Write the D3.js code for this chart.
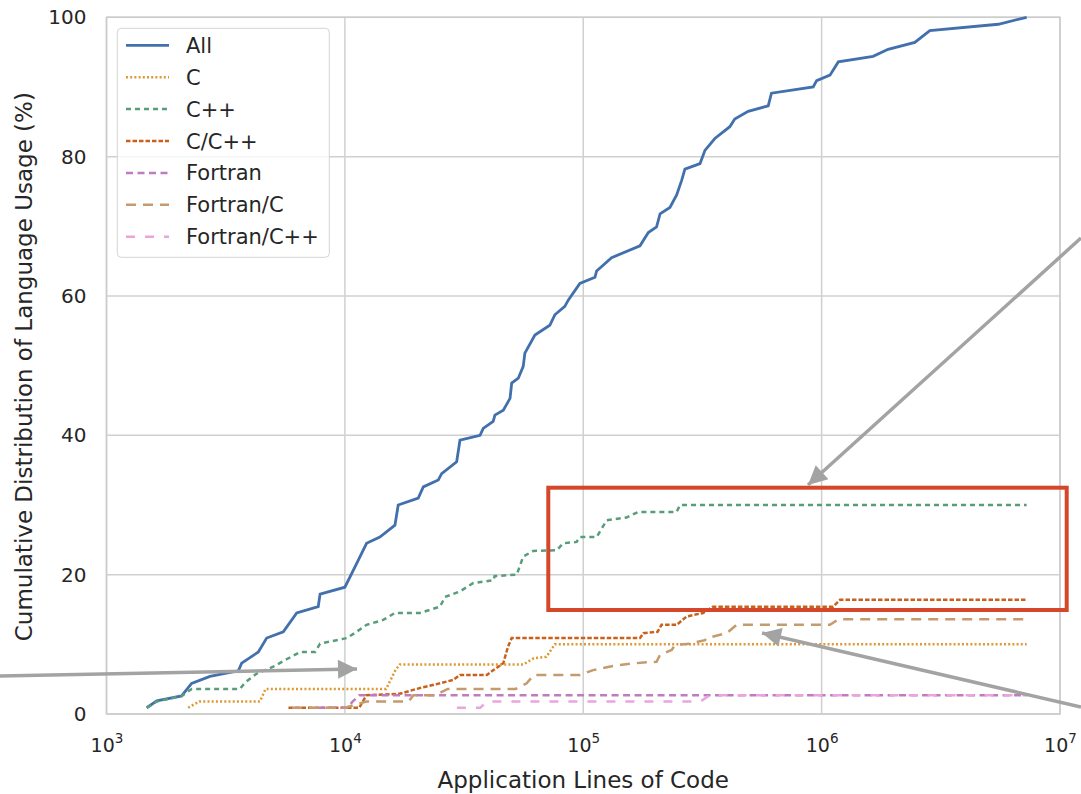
<!DOCTYPE html>
<html>
<head>
<meta charset="utf-8">
<script src="https://cdn.jsdelivr.net/npm/d3@7"></script>
<style>
  body { margin: 0; background: #fff; }
  svg text { font-family: "DejaVu Sans", sans-serif; fill: #262626; }
</style>
</head>
<body>
<svg id="chart" width="1081" height="794"></svg>
<script>
// [lines of code, cumulative %] per language group
const allPts = [[1475,0.9],[1625,1.9],[2066,2.6],[2275,4.4],[2716,5.4],[3573,6.2],[3690,7.3],[4335,8.9],[4698,10.9],[5517,11.8],[6280,14.5],[7730,15.4],[7870,17.2],[10000,18.2],[11200,21.6],[12330,24.5],[14020,25.4],[16220,27.1],[16740,30.0],[20320,31.0],[21330,32.6],[24660,33.6],[25470,34.5],[29440,36.2],[30400,39.3],[36900,40.0],[38050,41.0],[41900,42.0],[42600,42.9],[46200,43.6],[49300,45.3],[50100,47.5],[53400,48.2],[56000,49.9],[56900,51.8],[62700,54.4],[72400,55.8],[76000,57.3],[83700,58.5],[86500,59.4],[96800,61.8],[112000,62.7],[113800,63.6],[131500,65.5],[173000,67.2],[187500,69.1],[203000,69.9],[210000,71.8],[231000,72.7],[246500,74.5],[258700,76.6],[267000,78.2],[309000,79.0],[324000,80.9],[356500,82.6],[412000,84.3],[432000,85.4],[492000,86.5],[597000,87.3],[616000,89.1],[922000,90.0],[953000,90.9],[1084000,91.7],[1175000,93.6],[1644000,94.4],[1901000,95.4],[2460000,96.4],[2844000,98.1],[5510000,99.0],[7245000,100]];
const cPts = [[2200,0.9],[2450,1.8],[4400,1.8],[4650,3.6],[14900,3.6],[16300,6.3],[17000,7.1],[56000,7.1],[62000,8.0],[70000,8.2],[76000,10.0],[7245000,10.0]];
const cppPts = [[1475,0.9],[1625,1.8],[2070,2.6],[2280,3.6],[3630,3.6],[3810,4.5],[4270,5.8],[5010,6.8],[5800,8.0],[6490,8.9],[7500,8.9],[7870,10.1],[10200,10.9],[11200,11.8],[12330,12.8],[14480,13.5],[16200,14.5],[20650,14.5],[25060,15.4],[26300,16.8],[30400,17.6],[34600,18.8],[42000,19.2],[42500,19.8],[52600,20.0],[56000,22.6],[61700,23.4],[77300,23.5],[82400,24.5],[93800,24.7],[96800,25.4],[113800,25.4],[125300,27.8],[152000,28.2],[170000,29.0],[246500,29.0],[254600,30.0],[7245000,30.0]];
const ccppPts = [[5800,0.9],[11500,0.9],[12300,2.7],[17000,2.9],[20000,3.6],[25000,4.4],[28500,4.9],[30400,5.6],[39400,5.6],[42000,6.3],[46200,7.3],[48400,9.7],[50100,10.9],[173000,10.9],[178700,11.6],[205000,11.8],[213000,12.8],[246600,12.8],[271600,14.0],[318000,14.5],[350600,15.4],[1118000,15.4],[1195000,16.4],[7245000,16.4]];
const fortranPts = [[7700,0.9],[10200,0.9],[10800,1.8],[11500,2.7],[7245000,2.7]];
const fortranCPts = [[6000,0.9],[10000,0.9],[12300,1.8],[18500,1.8],[19400,2.7],[24000,2.7],[27000,3.6],[52000,3.6],[57900,4.4],[62000,5.6],[96800,5.6],[110000,6.3],[138000,7.0],[178700,7.4],[203000,7.5],[210000,8.5],[235000,9.2],[242700,9.9],[280600,10.1],[324000,10.6],[330000,10.9],[400000,11.6],[440000,12.8],[1084000,12.8],[1175000,13.6],[7245000,13.6]];
const fortranCppPts = [[29500,0.9],[37000,0.9],[39500,1.8],[310000,1.8],[340000,2.7],[7245000,2.7]];

const seriesNames = ["All", "C", "C++", "C/C++", "Fortran", "Fortran/C", "Fortran/C++"];
const seriesData = [allPts, cPts, cppPts, ccppPts, fortranPts, fortranCPts, fortranCppPts];
const seriesColors = ["#4170ad", "#dd9932", "#579d7a", "#c8611b", "#bf7cc0", "#c49a6e", "#eaa5dc"];
const seriesDash = [null, "2,2.2", "5,4", "4.5,2", "7,4.5", "10,7", "9,10"];

const xTicks = [1e3, 1e4, 1e5, 1e6, 1e7];
const yTicks = [0, 20, 40, 60, 80, 100];

(function() {
    const svg = d3.select("#chart");
    const left = 106.5, right = 1060, plotTop = 17.3, bottom = 714;

    const x = d3.scaleLog().domain([1e3, 1e7]).range([left, right]);
    const y = d3.scaleLinear().domain([0, 100]).range([bottom, plotTop]);

    // grid
    svg.append("g").selectAll("line").data(yTicks).join("line")
        .attr("x1", left).attr("x2", right)
        .attr("y1", d => y(d)).attr("y2", d => y(d))
        .attr("stroke", "#d0d0d0").attr("stroke-width", 1.5);
    svg.append("g").selectAll("line").data(xTicks).join("line")
        .attr("x1", d => x(d)).attr("x2", d => x(d))
        .attr("y1", plotTop).attr("y2", bottom)
        .attr("stroke", "#d0d0d0").attr("stroke-width", 1.5);
    svg.append("rect")
        .attr("x", left).attr("y", plotTop)
        .attr("width", right - left).attr("height", bottom - plotTop)
        .attr("fill", "none").attr("stroke", "#cccccc").attr("stroke-width", 1.5);

    // axes
    const xAxis = svg.append("g")
        .attr("transform", `translate(0,${bottom})`)
        .call(d3.axisBottom(x).tickValues(xTicks).tickSize(0).tickPadding(25).tickFormat(""));
    xAxis.select(".domain").remove();
    xAxis.selectAll(".tick text")
        .attr("font-size", 19)
        .each(function(d) {
            const t = d3.select(this);
            t.append("tspan").text("10");
            t.append("tspan").attr("font-size", 13.5).attr("dy", -9).text(Math.round(Math.log10(d)));
        });

    const yAxis = svg.append("g")
        .attr("transform", `translate(${left},0)`)
        .call(d3.axisLeft(y).tickValues(yTicks).tickSize(0).tickPadding(20));
    yAxis.select(".domain").remove();
    yAxis.selectAll(".tick text").attr("font-size", 20);
    svg.selectAll(".tick text").attr("fill", "#262626").attr("font-family", "DejaVu Sans");

    svg.append("text")
        .attr("x", (left + right) / 2).attr("y", 788)
        .attr("text-anchor", "middle").attr("font-size", 23)
        .text("Application Lines of Code");
    svg.append("text")
        .attr("transform", `translate(32,${(plotTop + bottom) / 2 + 1}) rotate(-90)`)
        .attr("text-anchor", "middle").attr("font-size", 23)
        .text("Cumulative Distribution of Language Usage (%)");

    // lines
    const line = d3.line().x(d => x(d[0])).y(d => y(d[1]));
    svg.append("g").selectAll("path").data(seriesData).join("path")
        .attr("d", line)
        .attr("fill", "none")
        .attr("stroke", (d, i) => seriesColors[i])
        .attr("stroke-width", (d, i) => i === 0 ? 2.8 : 2.5)
        .attr("stroke-dasharray", (d, i) => seriesDash[i]);

    // legend
    const legend = svg.append("g");
    legend.append("rect")
        .attr("x", 117.3).attr("y", 28.3).attr("width", 212).attr("height", 229)
        .attr("rx", 4).attr("fill", "#fff").attr("fill-opacity", 0.8)
        .attr("stroke", "#d4d4d4").attr("stroke-width", 1);
    const rows = legend.selectAll("g.row").data(seriesNames).join("g")
        .attr("class", "row")
        .attr("transform", (d, i) => `translate(0,${45.3 + i * 31.9})`);
    rows.append("line")
        .attr("x1", 126).attr("x2", 169)
        .attr("stroke", (d, i) => seriesColors[i])
        .attr("stroke-width", (d, i) => i === 0 ? 2.8 : 2.5)
        .attr("stroke-dasharray", (d, i) => seriesDash[i]);
    rows.append("text")
        .attr("x", 186).attr("dy", "0.36em").attr("font-size", 21)
        .text(d => d);

    // annotations
    const defs = svg.append("defs");
    defs.append("marker")
        .attr("id", "head").attr("viewBox", "0 0 10 10")
        .attr("refX", 10).attr("refY", 5)
        .attr("markerUnits", "userSpaceOnUse")
        .attr("markerWidth", 25).attr("markerHeight", 19)
        .attr("orient", "auto")
        .append("path").attr("d", "M0,0L10,5L0,10Z").attr("fill", "#a3a3a3");

    svg.append("rect")
        .attr("x", 548.3).attr("y", 487.7).attr("width", 518.4).attr("height", 122.3)
        .attr("fill", "none").attr("stroke", "#d4472a").attr("stroke-width", 4);

    const arrows = [
        [[0, 676], [357, 669]],
        [[1081, 238], [808, 485]],
        [[1081, 707], [762, 633]]
    ];
    svg.append("g").selectAll("line").data(arrows).join("line")
        .attr("x1", d => d[0][0]).attr("y1", d => d[0][1])
        .attr("x2", d => d[1][0]).attr("y2", d => d[1][1])
        .attr("stroke", "#a3a3a3").attr("stroke-width", 3.5)
        .attr("marker-end", "url(#head)");
})();
</script>
</body>
</html>
